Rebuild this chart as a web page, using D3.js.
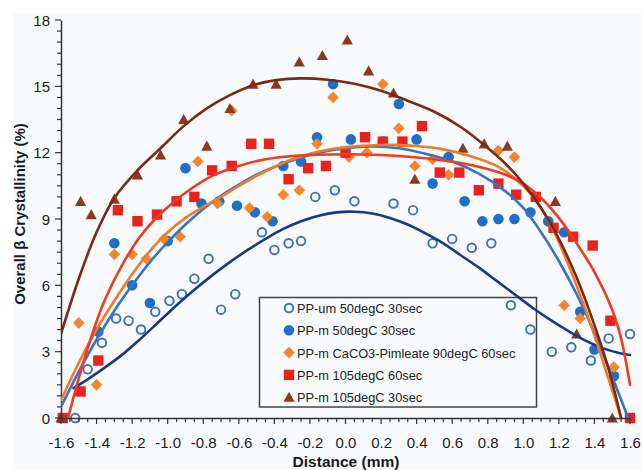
<!DOCTYPE html>
<html>
<head>
<meta charset="utf-8">
<script src="https://cdn.jsdelivr.net/npm/d3@7"></script>
<style>
  html, body { margin: 0; padding: 0; background: #ffffff; }
  svg { display: block; }
  text { font-family: Arial, "Liberation Sans", Helvetica, sans-serif; }
</style>
</head>
<body>
<svg id="chart" width="642" height="470"></svg>
<script>
// ---- data --------------------------------------------------------------
const seriesNames = [
  "PP-um 50degC 30sec",
  "PP-m 50degC 30sec",
  "PP-m CaCO3-Pimleate 90degC 60sec",
  "PP-m 105degC 60sec",
  "PP-m 105degC 30sec"
];

// measured points: [distance (mm), overall beta crystallinity (%)]
const ppUm50 = [
  [-1.52,0.0],[-1.45,2.2],[-1.37,3.4],[-1.29,4.5],[-1.22,4.4],[-1.15,4.0],[-1.07,4.8],
  [-0.99,5.3],[-0.92,5.6],[-0.85,6.3],[-0.77,7.2],[-0.70,4.9],[-0.62,5.6],[-0.47,8.4],
  [-0.40,7.6],[-0.32,7.9],[-0.25,8.0],[-0.17,10.0],[-0.06,10.3],[0.05,9.8],[0.27,9.7],
  [0.38,9.4],[0.49,7.9],[0.60,8.1],[0.71,7.7],[0.82,7.9],[0.93,5.1],[1.04,4.0],
  [1.16,3.0],[1.27,3.2],[1.38,2.6],[1.48,3.6],[1.60,3.8]
];
const ppM50 = [
  [-1.39,3.9],[-1.30,7.9],[-1.20,6.0],[-1.10,5.2],[-1.00,8.0],[-0.90,11.3],[-0.81,9.7],
  [-0.71,9.8],[-0.61,9.6],[-0.51,9.3],[-0.41,8.9],[-0.35,11.4],[-0.25,11.6],[-0.16,12.7],
  [-0.07,15.1],[0.03,12.6],[0.21,12.5],[0.30,14.2],[0.40,12.6],[0.49,10.6],[0.58,11.8],
  [0.67,9.8],[0.77,8.9],[0.86,9.0],[0.95,9.0],[1.04,9.3],[1.14,8.9],[1.23,8.4],
  [1.32,4.8],[1.40,3.1],[1.51,1.9]
];
const ppMCaCO3 = [
  [-1.50,4.3],[-1.40,1.5],[-1.30,7.4],[-1.20,7.4],[-1.12,7.2],[-1.02,8.1],[-0.93,8.2],
  [-0.83,11.6],[-0.72,9.7],[-0.64,13.9],[-0.54,9.5],[-0.44,9.1],[-0.35,10.1],[-0.26,10.3],
  [-0.16,12.4],[-0.07,14.5],[0.02,11.8],[0.12,12.0],[0.21,15.1],[0.30,13.1],[0.39,11.4],
  [0.49,11.7],[0.58,11.0],[0.86,12.1],[0.95,11.8],[1.23,5.1],[1.32,4.5],[1.51,2.3]
];
const ppM105s60 = [
  [-1.59,0.0],[-1.49,1.2],[-1.39,2.6],[-1.28,9.4],[-1.17,8.9],[-1.06,9.2],[-0.95,9.8],
  [-0.85,10.0],[-0.75,11.2],[-0.64,11.4],[-0.53,12.4],[-0.43,12.4],[-0.32,10.8],[-0.21,11.3],
  [-0.11,11.4],[0.00,12.0],[0.11,12.7],[0.21,12.5],[0.32,12.5],[0.43,13.2],[0.53,11.1],
  [0.64,11.1],[0.75,10.3],[0.86,10.6],[0.96,10.1],[1.07,10.0],[1.17,8.6],[1.28,8.2],
  [1.39,7.8],[1.49,4.4],[1.60,0.0]
];
const ppM105s30 = [
  [-1.60,0.0],[-1.49,9.8],[-1.43,9.2],[-1.30,9.9],[-1.17,11.0],[-1.04,11.9],[-0.91,13.5],
  [-0.78,12.3],[-0.65,14.0],[-0.52,15.1],[-0.39,15.1],[-0.26,16.1],[-0.13,16.4],[0.01,17.1],
  [0.13,15.7],[0.27,14.7],[0.39,10.8],[0.66,12.2],[0.78,12.4],[0.91,12.3],[1.18,9.8],
  [1.30,3.8],[1.50,0.0]
];

// fitted trend curves, sampled along distance
const fitUm50 = [
  [-1.53,1.35],[-1.45,1.75],[-1.35,2.3],[-1.25,2.9],[-1.15,3.6],[-1.05,4.35],[-0.95,5.1],
  [-0.85,5.8],[-0.75,6.45],[-0.65,7.05],[-0.55,7.6],[-0.45,8.1],[-0.35,8.55],[-0.25,8.9],
  [-0.15,9.15],[-0.05,9.3],[0.05,9.33],[0.15,9.25],[0.25,9.05],[0.35,8.75],[0.45,8.35],
  [0.55,7.9],[0.65,7.35],[0.75,6.8],[0.85,6.2],[0.95,5.6],[1.05,5.0],[1.15,4.45],
  [1.25,3.95],[1.35,3.5],[1.45,3.15],[1.55,2.92],[1.60,2.85]
];
const fitM50 = [
  [-1.60,0.5],[-1.50,2.1],[-1.40,3.55],[-1.30,4.85],[-1.20,6.0],[-1.10,7.05],[-1.00,7.95],
  [-0.90,8.75],[-0.80,9.45],[-0.70,10.05],[-0.60,10.55],[-0.50,11.0],[-0.40,11.35],
  [-0.30,11.65],[-0.15,12.0],[0.00,12.2],[0.15,12.28],[0.30,12.2],[0.45,11.95],[0.60,11.6],
  [0.75,11.05],[0.90,10.25],[1.00,9.5],[1.10,8.4],[1.20,7.1],[1.30,5.6],[1.40,3.85],
  [1.50,1.85],[1.59,0.0]
];
const fitCaCO3 = [
  [-1.60,0.8],[-1.50,2.5],[-1.40,4.0],[-1.30,5.3],[-1.20,6.5],[-1.10,7.55],[-1.00,8.4],
  [-0.90,9.05],[-0.80,9.55],[-0.70,10.0],[-0.60,10.5],[-0.50,10.95],[-0.40,11.35],
  [-0.30,11.7],[-0.15,12.05],[0.00,12.25],[0.20,12.35],[0.40,12.3],[0.55,12.15],[0.70,11.85],
  [0.85,11.4],[0.95,10.85],[1.05,10.05],[1.15,8.8],[1.25,7.0],[1.35,4.9],[1.45,2.5],
  [1.55,0.0]
];
const fit105s60 = [
  [-1.56,0.0],[-1.50,1.8],[-1.42,3.9],[-1.35,5.4],[-1.25,7.0],[-1.16,8.15],[-1.07,9.0],
  [-0.97,9.75],[-0.88,10.3],[-0.75,10.95],[-0.60,11.4],[-0.45,11.7],[-0.30,11.85],
  [-0.10,11.92],[0.10,11.92],[0.30,11.85],[0.50,11.7],[0.70,11.45],[0.90,11.0],[1.00,10.6],
  [1.10,9.95],[1.20,9.05],[1.30,7.9],[1.40,6.6],[1.50,4.9],[1.55,3.6],[1.60,1.5]
];
const fit105s30 = [
  [-1.60,3.8],[-1.50,6.3],[-1.40,8.4],[-1.30,9.95],[-1.17,11.2],[-1.04,12.2],[-0.91,13.2],
  [-0.78,14.0],[-0.65,14.6],[-0.52,15.05],[-0.39,15.28],[-0.25,15.36],[-0.10,15.3],
  [0.05,15.12],[0.20,14.8],[0.35,14.35],[0.50,13.85],[0.65,13.15],[0.78,12.35],[0.90,11.5],
  [1.00,10.6],[1.10,9.5],[1.20,8.1],[1.30,6.35],[1.40,4.2],[1.48,2.2],[1.55,0.0]
];

const xTickValues = [-1.6,-1.4,-1.2,-1.0,-0.8,-0.6,-0.4,-0.2,0.0,0.2,0.4,0.6,0.8,1.0,1.2,1.4,1.6];
const yTickValues = [0,3,6,9,12,15,18];

// ---- layout ------------------------------------------------------------
const svg = d3.select("#chart");
const W = 642, H = 470;
const plotL = 61, plotR = 630, plotT = 20, plotB = 418;

const x = d3.scaleLinear().domain([-1.6, 1.6]).range([plotL, plotR]);
const y = d3.scaleLinear().domain([0, 18]).range([plotB, plotT]);

// faint panel tint
svg.append("rect").attr("x", 13).attr("y", 13).attr("width", W - 13).attr("height", H - 13)
  .attr("fill", "#f9fafd");

svg.append("defs").append("clipPath").attr("id", "plotclip")
  .append("rect").attr("x", plotL).attr("y", plotT - 2)
  .attr("width", plotR - plotL + 2).attr("height", plotB - plotT + 2);

// ---- series styling ----------------------------------------------------
const styles = [
  { pts: ppUm50,    fit: fitUm50,   type: "open",     color: "#3b6fc2", line: "#1b3888" },
  { pts: ppM50,     fit: fitM50,    type: "circle",   color: "#1f6fc6", line: "#3674c4" },
  { pts: ppMCaCO3,  fit: fitCaCO3,  type: "diamond",  color: "#f5862c", line: "#f07a26" },
  { pts: ppM105s60, fit: fit105s60, type: "square",   color: "#e8231c", line: "#ef3b22" },
  { pts: ppM105s30, fit: fit105s30, type: "triangle", color: "#8c3a1c", line: "#7a2a12" }
];

function drawMarker(g, type, color, cx, cy) {
  if (type === "open") {
    g.append("circle").attr("cx", cx).attr("cy", cy).attr("r", 4.3)
      .attr("fill", "none").attr("stroke", color).attr("stroke-width", 1.9);
  } else if (type === "circle") {
    g.append("circle").attr("cx", cx).attr("cy", cy).attr("r", 5.3).attr("fill", color);
  } else if (type === "diamond") {
    g.append("path").attr("d", `M${cx},${cy - 5.8}L${cx + 5.8},${cy}L${cx},${cy + 5.8}L${cx - 5.8},${cy}Z`)
      .attr("fill", color);
  } else if (type === "square") {
    g.append("rect").attr("x", cx - 5.2).attr("y", cy - 5.2).attr("width", 10.4).attr("height", 10.4)
      .attr("fill", color);
  } else if (type === "triangle") {
    g.append("path").attr("d", `M${cx},${cy - 5.5}L${cx + 5.6},${cy + 4.6}L${cx - 5.6},${cy + 4.6}Z`)
      .attr("fill", color);
  }
}

// ---- legend box (unfilled, sits under the marks) -----------------------
const legend = svg.append("g");
legend.append("rect").attr("x", 259.5).attr("y", 297.5).attr("width", 277).attr("height", 109.5)
  .attr("fill", "none").attr("stroke", "#444").attr("stroke-width", 1.5);

// ---- points -----------------------------------------------------------
const pointsG = svg.append("g");
styles.forEach(s => {
  s.pts.forEach(p => drawMarker(pointsG, s.type, s.color, x(p[0]), y(p[1])));
});

// legend rows
styles.forEach((s, i) => {
  const cy = 308 + i * 22.3;
  drawMarker(legend, s.type, s.color, 289, cy);
  legend.append("text").attr("x", 297).attr("y", cy + 5).attr("font-size", 12.8)
    .attr("fill", "#222").text(seriesNames[i]);
});

// ---- axes --------------------------------------------------------------
const axisColor = "#333";
const axG = svg.append("g");

// minor and major tick marks
d3.range(0, 65).forEach(i => {
  const v = -1.6 + i * 0.05;
  const major = i % 4 === 0;
  axG.append("line").attr("x1", x(v)).attr("x2", x(v))
    .attr("y1", plotB).attr("y2", plotB + (major ? 6 : 4))
    .attr("stroke", axisColor).attr("stroke-width", 1.2);
});
d3.range(0, 37).forEach(i => {
  const v = i * 0.5;
  const major = i % 6 === 0;
  axG.append("line").attr("y1", y(v)).attr("y2", y(v))
    .attr("x1", plotL).attr("x2", plotL - (major ? 6 : 4))
    .attr("stroke", axisColor).attr("stroke-width", 1.2);
});

const xAxis = d3.axisBottom(x).tickValues(xTickValues).tickSize(0).tickPadding(0)
  .tickFormat(d => d3.format(".1f")(d).replace("−", "-"));
const gx = svg.append("g").attr("transform", `translate(0,${plotB})`).call(xAxis);
gx.select(".domain").attr("stroke", axisColor).attr("stroke-width", 1.5);
gx.selectAll("text").attr("font-size", 15).attr("fill", "#1a1a1a").attr("dy", 0).attr("y", 29.5);

const yAxis = d3.axisLeft(y).tickValues(yTickValues).tickSize(0).tickPadding(0);
const gy = svg.append("g").attr("transform", `translate(${plotL},0)`).call(yAxis);
gy.select(".domain").attr("stroke", axisColor).attr("stroke-width", 1.5);
gy.selectAll("text").attr("font-size", 15).attr("fill", "#1a1a1a").attr("x", -11).attr("dy", "0.35em");

svg.append("text").attr("x", 346).attr("y", 467).attr("text-anchor", "middle")
  .attr("font-size", 15.5).attr("font-weight", "bold").attr("fill", "#1a1a1a").text("Distance (mm)");
svg.append("text").attr("transform", "translate(25,214) rotate(-90)").attr("text-anchor", "middle")
  .attr("font-size", 15).attr("font-weight", "bold").attr("fill", "#1a1a1a")
  .text("Overall β Crystallinity (%)");

// ---- trend curves ------------------------------------------------------
const line = d3.line().x(d => x(d[0])).y(d => y(d[1])).curve(d3.curveCatmullRom.alpha(0.5));
const fitsG = svg.append("g").attr("clip-path", "url(#plotclip)");
styles.forEach(s => {
  fitsG.append("path").attr("d", line(s.fit)).attr("fill", "none")
    .attr("stroke", s.line).attr("stroke-width", 2.6).attr("stroke-linecap", "round");
});
</script>
</body>
</html>
